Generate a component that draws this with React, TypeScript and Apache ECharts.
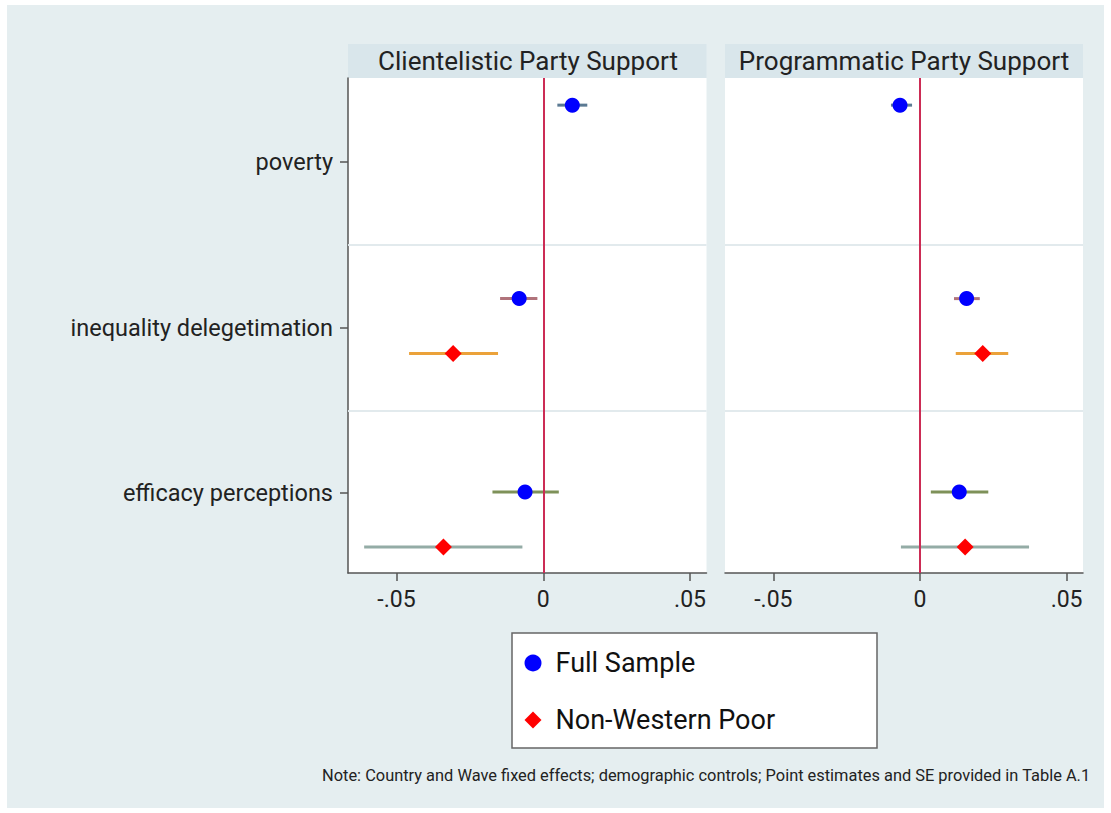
import React, { useEffect, useRef } from "react";
import * as echarts from "echarts";

const categories = ["poverty", "inequality delegetimation", "efficacy perceptions"];
const panelTitles = ["Clientelistic Party Support", "Programmatic Party Support"];
const seriesNames = ["Full Sample", "Non-Western Poor"];
const xTickValues = [-0.05, 0, 0.05];
const xTickLabels = ["-.05", "0", ".05"];
const yTickValues = [1, 2, 3];
const gridLineValues = [1.5, 2.5];

// vertical positions of the estimates (category 1..3, with offsets)
const fullPos = [0.656, 1.825, 2.994];
const nwpPos = [2.157, 3.326]; // inequality, efficacy

// Clientelistic panel
const clientFull = [0.0099, -0.0082, -0.0062];
const clientFullLo = [0.0048, -0.0147, -0.0173];
const clientFullHi = [0.015, -0.002, 0.0053];
const clientNwp = [-0.0307, -0.034];
const clientNwpLo = [-0.0457, -0.061];
const clientNwpHi = [-0.0154, -0.0071];

// Programmatic panel
const progFull = [-0.0068, 0.0159, 0.0134];
const progFullLo = [-0.0099, 0.0116, 0.0037];
const progFullHi = [-0.0027, 0.0204, 0.0233];
const progNwp = [0.0214, 0.0154];
const progNwpLo = [0.0122, -0.0065];
const progNwpHi = [0.0301, 0.0372];

const fullCiColors = ["#5b7a93", "#b0737b", "#7e9159"];
const nwpCiColors = ["#eba23a", "#94aca6"];

const noteText =
  "Note: Country and Wave fixed effects; demographic controls; Point estimates and SE provided in Table A.1";

const FONT = "Roboto";

export default function App() {
  const ref = useRef<HTMLDivElement>(null);
  useEffect(() => {
    document.body.style.margin = "0";
    const chart = echarts.init(ref.current!, null, { renderer: "svg" });

    const grids = [
      { left: 348, top: 78, width: 358.5, height: 495 },
      { left: 725, top: 78, width: 358, height: 495 },
    ];

    const panels = [
      { full: clientFull, fLo: clientFullLo, fHi: clientFullHi, nwp: clientNwp, nLo: clientNwpLo, nHi: clientNwpHi },
      { full: progFull, fLo: progFullLo, fHi: progFullHi, nwp: progNwp, nLo: progNwpLo, nHi: progNwpHi },
    ];

    const xAxes = grids.map((_, i) => ({
      type: "value",
      gridIndex: i,
      min: -0.0665,
      max: 0.0556,
      axisLine: { show: true, onZero: false, lineStyle: { color: "#555", width: 1.5 } },
      axisTick: {
        show: true,
        length: 8,
        customValues: xTickValues,
        lineStyle: { color: "#555", width: 1.5 },
      },
      axisLabel: {
        customValues: xTickValues,
        margin: 15,
        fontFamily: FONT,
        fontSize: 23,
        color: "#222",
        formatter: (v: number) => xTickLabels[xTickValues.findIndex((t) => Math.abs(t - v) < 1e-9)] ?? "",
      },
      splitLine: { show: false },
    }));

    const yAxes = grids.map((_, i) => ({
      type: "value",
      gridIndex: i,
      inverse: true,
      min: 0.492,
      max: 3.483,
      axisLine: { show: i === 0, onZero: false, lineStyle: { color: "#555", width: 1.5 } },
      axisTick: {
        show: i === 0,
        length: 8,
        customValues: yTickValues,
        lineStyle: { color: "#555", width: 1.5 },
      },
      axisLabel: {
        show: i === 0,
        customValues: yTickValues,
        margin: 15,
        fontFamily: FONT,
        fontSize: 23.5,
        color: "#222",
        formatter: (v: number) => categories[Math.round(v) - 1] ?? "",
      },
      splitLine: { show: false },
    }));

    const series: any[] = [];
    panels.forEach((p, i) => {
      const ciData: any[] = [];
      p.full.forEach((_, k) => ciData.push([p.fLo[k], p.fHi[k], fullPos[k], fullCiColors[k]]));
      p.nwp.forEach((_, k) => ciData.push([p.nLo[k], p.nHi[k], nwpPos[k], nwpCiColors[k]]));

      series.push({
        type: "line",
        xAxisIndex: i,
        yAxisIndex: i,
        data: [],
        z: 1,
        silent: true,
        markLine: {
          silent: true,
          symbol: "none",
          label: { show: false },
          data: gridLineValues.map((g) => ({ yAxis: g, lineStyle: { color: "#e2eaed", width: 2, type: "solid" } })),
        },
      });
      series.push({
        type: "custom",
        xAxisIndex: i,
        yAxisIndex: i,
        z: 2,
        silent: true,
        encode: { x: [0, 1], y: 2 },
        data: ciData,
        renderItem: (params: any, api: any) => {
          const d = ciData[params.dataIndex];
          const a = api.coord([d[0], d[2]]);
          const b = api.coord([d[1], d[2]]);
          return {
            type: "line",
            shape: { x1: a[0], y1: a[1], x2: b[0], y2: b[1] },
            style: { stroke: d[3], lineWidth: 3 },
          };
        },
      });
      series.push({
        type: "line",
        xAxisIndex: i,
        yAxisIndex: i,
        data: [],
        z: 3,
        silent: true,
        markLine: {
          silent: true,
          symbol: "none",
          label: { show: false },
          data: [{ xAxis: 0, lineStyle: { color: "#cc2c55", width: 2, type: "solid" } }],
        },
      });
      series.push({
        name: seriesNames[0],
        type: "scatter",
        xAxisIndex: i,
        yAxisIndex: i,
        z: 4,
        symbol: "circle",
        symbolSize: 15,
        symbolKeepAspect: true,
        itemStyle: { color: "#0000ff", opacity: 1 },
        data: p.full.map((v, k) => [v, fullPos[k]]),
      });
      series.push({
        name: seriesNames[1],
        type: "scatter",
        xAxisIndex: i,
        yAxisIndex: i,
        z: 4,
        symbol: "diamond",
        symbolSize: 17,
        symbolKeepAspect: true,
        itemStyle: { color: "#ff0000", opacity: 1 },
        data: p.nwp.map((v, k) => [v, nwpPos[k]]),
      });
    });

    const option: any = {
      animation: false,
      backgroundColor: "transparent",
      grid: grids.map((g) => ({ ...g, show: true, backgroundColor: "#ffffff", borderWidth: 0 })),
      xAxis: xAxes,
      yAxis: yAxes,
      series,
      legend: {
        data: seriesNames,
        orient: "vertical",
        left: 524.5,
        top: 648,
        itemWidth: 17,
        itemHeight: 17,
        itemGap: 27,
        padding: 0,
        selectedMode: false,
        textStyle: { fontFamily: FONT, fontSize: 27, color: "#111", lineHeight: 30, padding: [0, 0, 0, 9] },
      },
      graphic: [
        {
          type: "rect",
          z: -1,
          shape: { x: 512, y: 633, width: 365, height: 115 },
          style: { fill: "#ffffff", stroke: "#666", lineWidth: 1.5 },
        },
        {
          type: "rect",
          z: -1,
          shape: { x: 348, y: 44, width: 358.5, height: 34 },
          style: { fill: "#d9e6eb" },
        },
        {
          type: "rect",
          z: -1,
          shape: { x: 725, y: 44, width: 358, height: 34 },
          style: { fill: "#d9e6eb" },
        },
        {
          type: "text",
          x: 528,
          y: 61,
          style: {
            text: panelTitles[0],
            fontFamily: FONT,
            fontSize: 26,
            fill: "#222",
            textAlign: "center",
            textVerticalAlign: "middle",
          },
        },
        {
          type: "text",
          x: 904,
          y: 61,
          style: {
            text: panelTitles[1],
            fontFamily: FONT,
            fontSize: 26,
            fill: "#222",
            textAlign: "center",
            textVerticalAlign: "middle",
          },
        },
        {
          type: "text",
          x: 322,
          y: 775,
          style: {
            text: noteText,
            fontFamily: FONT,
            fontSize: 16.4,
            fill: "#222",
            textAlign: "left",
            textVerticalAlign: "middle",
          },
        },
      ],
    };
    chart.setOption(option);
    return () => chart.dispose();
  }, []);

  return (
    <div
      ref={ref}
      style={{
        width: 1111,
        height: 813,
        background: "linear-gradient(#e5eef0, #e5eef0) 7px 5px / 1097px 803px no-repeat, #ffffff",
      }}
    />
  );
}
